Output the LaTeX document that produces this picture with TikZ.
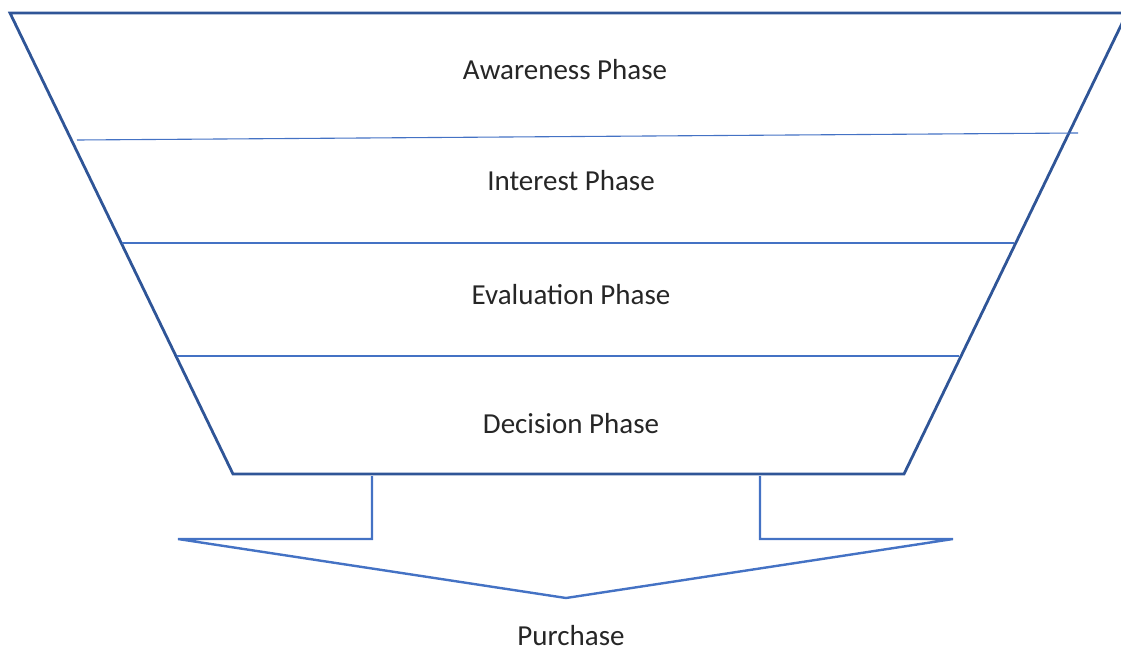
\documentclass[tikz,border=0pt]{standalone}
\usepackage{fontspec}
\setmainfont{Carlito}
\definecolor{funnelblue}{HTML}{2F5597}
\definecolor{lineblue}{HTML}{4472C4}
\begin{document}
\begin{tikzpicture}[x=1pt,y=-1pt,
  funnel/.style={draw=funnelblue,line width=2.8pt,line join=miter},
  divider/.style={draw=lineblue,line width=1.1pt},
  arrowshape/.style={draw=lineblue,line width=2.4pt,line join=miter},
  label/.style={font=\fontsize{29}{34}\selectfont,text=black!85,inner sep=0pt}]
\useasboundingbox (0,0) rectangle (1121,653);
\begin{scope}
\clip (0,0) rectangle (1121,653);
\coordinate (tl) at (10,13);
\coordinate (tr) at (1127,13);
\coordinate (br) at (904,474);
\coordinate (bl) at (233,474);
\draw[funnel] (tl) -- (tr) -- (br) -- (bl) -- cycle;
\end{scope}
\coordinate (d1a) at (77,140); \coordinate (d1b) at (1078,133);
\coordinate (d2a) at (122,243); \coordinate (d2b) at (1014,243);
\coordinate (d3a) at (177,356); \coordinate (d3b) at (959,356);
\draw[divider] (d1a) -- (d1b);
\draw[divider] (d2a) -- (d2b);
\draw[divider] (d3a) -- (d3b);
\coordinate (s1) at (372,476); \coordinate (s2) at (372,539);
\coordinate (h1) at (178,539); \coordinate (tip) at (566,598);
\coordinate (h2) at (953,539); \coordinate (s3) at (760,539);
\coordinate (s4) at (760,476);
\draw[arrowshape] (s1) -- (s2) -- (h1) -- (tip) -- (h2) -- (s3) -- (s4);
\node[label] (aw) at (565,70) {Awareness Phase};
\node[label] (in) at (571,181) {Interest Phase};
\node[label] (ev) at (571,295) {Evaluation Phase};
\node[label] (de) at (571,424) {Decision Phase};
\node[label] (pu) at (571,636) {Purchase};
\end{tikzpicture}
\end{document}
